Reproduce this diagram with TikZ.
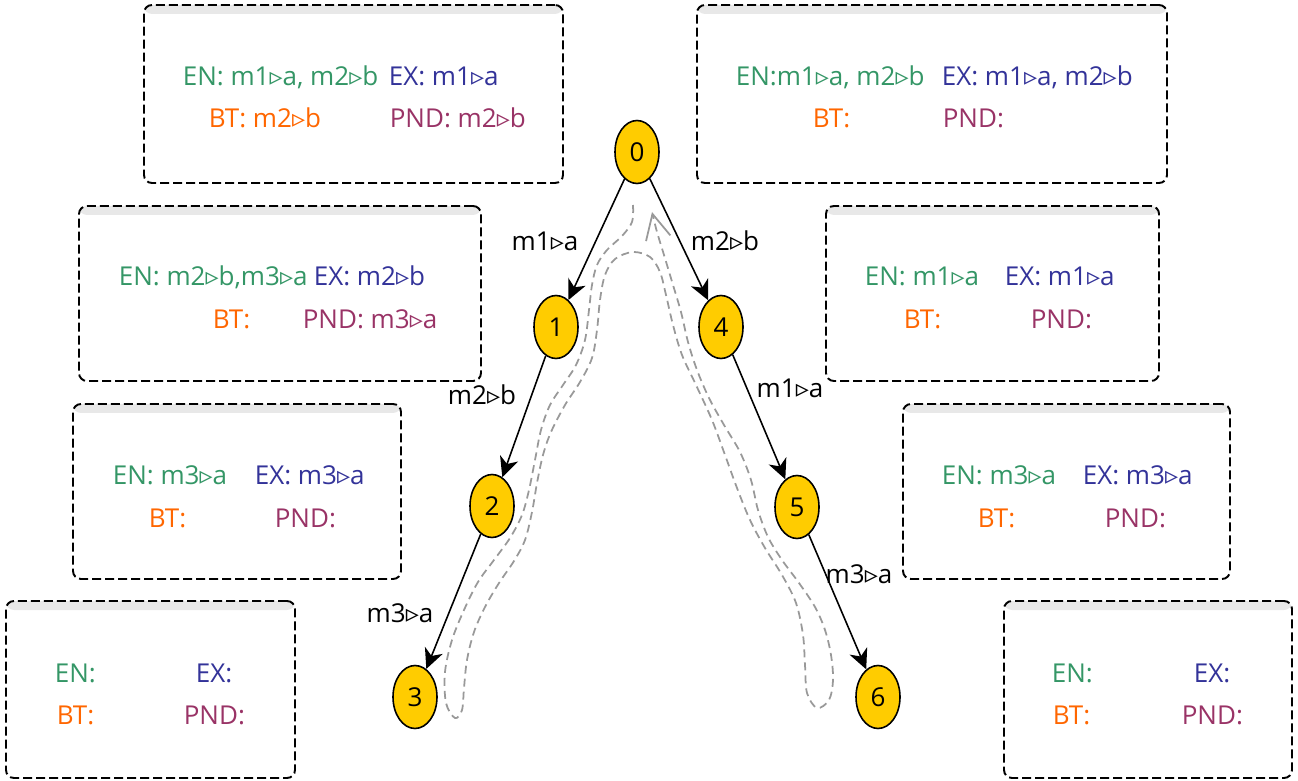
\documentclass[tikz,border=0pt]{standalone}
\usepackage{fontspec}
\setmainfont{Open Sans}
\newfontfamily\symfont{DejaVu Sans}
\newcommand{\tri}{{\symfont ▹}}
\usetikzlibrary{shapes.geometric,arrows.meta,fit}
\definecolor{encol}{RGB}{52,150,102}
\definecolor{excol}{RGB}{51,51,153}
\definecolor{btcol}{RGB}{255,102,0}
\definecolor{pndcol}{RGB}{153,51,102}
\definecolor{statefill}{RGB}{255,204,0}
\definecolor{barcol}{RGB}{232,232,232}
\definecolor{trailcol}{RGB}{153,153,153}
\begin{document}
\begin{tikzpicture}
[x=0.2mm,y=-0.2mm,line width=0.9pt,%
  font=\fontsize{14.8pt}{18pt}\selectfont,%
  state/.style={ellipse,draw,fill=statefill,minimum width=8.8mm,minimum height=12.6mm,inner sep=0pt},%
  link/.style={-{Stealth[length=4mm,width=3.8mm,inset=1.2mm]}},%
  lbl/.style={anchor=base,inner sep=0pt},%
  infobox/.style={draw,line width=1.1pt,inner sep=0pt,rounded corners=1.6mm,dash pattern=on 1.8mm off 0.8mm,%
    path picture={\fill[barcol] (path picture bounding box.north west) rectangle
      ([yshift=-1.8mm]path picture bounding box.north east);}},%
  enlbl/.style={anchor=base west,inner sep=0pt,text=encol},%
  exlbl/.style={anchor=base west,inner sep=0pt,text=excol},%
  btlbl/.style={anchor=base west,inner sep=0pt,text=btcol},%
  pndlbl/.style={anchor=base west,inner sep=0pt,text=pndcol},%
  trail/.style={trailcol,line width=1pt,dash pattern=on 1.6mm off 1mm,-{Straight Barb[length=5mm,width=5mm]}}]
\useasboundingbox (0,0) rectangle (1298,781);

% info boxes
\node[infobox,fit={(144,5) (563,183)}] (la) {};
\node[infobox,fit={(697,5) (1167,183)}] (ra) {};
\node[infobox,fit={(79,206) (481,381)}] (lb) {};
\node[infobox,fit={(826,206) (1159,381)}] (rb) {};
\node[infobox,fit={(73,404) (401,579)}] (lc) {};
\node[infobox,fit={(903,404) (1230,579)}] (rc) {};
\node[infobox,fit={(6,601) (295,778)}] (ld) {};
\node[infobox,fit={(1004,601) (1292,778)}] (rd) {};

\node[enlbl] (la-en) at (182,86) {EN: m1\tri a, m2\tri b};
\node[exlbl] (la-ex) at (388,86) {EX: m1\tri a};
\node[btlbl] (la-bt) at (208,128) {BT: m2\tri b};
\node[pndlbl] (la-pnd) at (389,128) {PND: m2\tri b};

\node[enlbl] (ra-en) at (735,86) {EN:m1\tri a, m2\tri b};
\node[exlbl] (ra-ex) at (941,86) {EX: m1\tri a, m2\tri b};
\node[btlbl] (ra-bt) at (812,128) {BT:};
\node[pndlbl] (ra-pnd) at (942,128) {PND:};

\node[enlbl] (lb-en) at (118,286) {EN: m2\tri b,m3\tri a};
\node[exlbl] (lb-ex) at (313,286) {EX: m2\tri b};
\node[btlbl] (lb-bt) at (212,329) {BT:};
\node[pndlbl] (lb-pnd) at (302,329) {PND: m3\tri a};

\node[enlbl] (rb-en) at (864,286) {EN: m1\tri a};
\node[exlbl] (rb-ex) at (1004,286) {EX: m1\tri a};
\node[btlbl] (rb-bt) at (903,329) {BT:};
\node[pndlbl] (rb-pnd) at (1030,329) {PND:};

\node[enlbl] (lc-en) at (112,485) {EN: m3\tri a};
\node[exlbl] (lc-ex) at (254,485) {EX: m3\tri a};
\node[btlbl] (lc-bt) at (148,527) {BT:};
\node[pndlbl] (lc-pnd) at (274,527) {PND:};

\node[enlbl] (rc-en) at (941,485) {EN: m3\tri a};
\node[exlbl] (rc-ex) at (1082,485) {EX: m3\tri a};
\node[btlbl] (rc-bt) at (977,527) {BT:};
\node[pndlbl] (rc-pnd) at (1104,527) {PND:};

\node[enlbl] (ld-en) at (54,682) {EN:};
\node[exlbl] (ld-ex) at (195,682) {EX:};
\node[btlbl] (ld-bt) at (56,724) {BT:};
\node[pndlbl] (ld-pnd) at (183,724) {PND:};

\node[enlbl] (rd-en) at (1051,682) {EN:};
\node[exlbl] (rd-ex) at (1193,682) {EX:};
\node[btlbl] (rd-bt) at (1052,724) {BT:};
\node[pndlbl] (rd-pnd) at (1181,724) {PND:};

% search tree
\node[state] (n0) at (637,152) {0};
\node[state] (n1) at (556,327) {1};
\node[state] (n2) at (492,506) {2};
\node[state] (n3) at (415,697) {3};
\node[state] (n4) at (721,327) {4};
\node[state] (n5) at (797,507) {5};
\node[state] (n6) at (878,697) {6};

\draw[link] (n0) -- (n1);
\draw[link] (n1) -- (n2);
\draw[link] (n2) -- (n3);
\draw[link] (n0) -- (n4);
\draw[link] (n4) -- (n5);
\draw[link] (n5) -- (n6);

\node[lbl] (l01) at (545,251) {m1\tri a};
\node[lbl] (l12) at (482,405) {m2\tri b};
\node[lbl] (l23) at (400,622) {m3\tri a};
\node[lbl] (l04) at (725,251) {m2\tri b};
\node[lbl] (l45) at (790,398) {m1\tri a};
\node[lbl] (l56) at (859,583) {m3\tri a};

% traversal
\draw[trail] plot[smooth,tension=0.55] coordinates {
  (633,205) (632,222) (622,236) (607,250) (597,265) (592,285) (589,310)
  (585,340) (576,365) (563,385) (550,405) (541,430) (535,460) (529,490)
  (522,515) (510,538) (494,560) (478,582) (464,610) (452,640) (445,672)
  (446,703) (455,718) (462,710) (464,688) (467,660) (474,632) (485,607)
  (499,583) (514,561) (525,540) (532,512) (537,483) (543,455) (551,432)
  (565,405) (580,382) (592,358) (597,330) (600,300) (605,275) (615,259)
  (633,252) (650,257) (660,272) (666,295) (673,325) (682,355) (696,385)
  (712,420) (725,455) (737,488) (750,520) (765,548) (782,575) (796,603)
  (803,635) (805,665) (807,693) (817,708) (829,700) (833,680) (831,655)
  (825,630) (815,607) (799,583) (782,560) (768,537) (758,510) (751,480)
  (740,452) (724,425) (709,398) (697,370) (688,342) (681,312) (673,285)
  (664,255) (657,232) (652,212)};
\end{tikzpicture}
\end{document}
